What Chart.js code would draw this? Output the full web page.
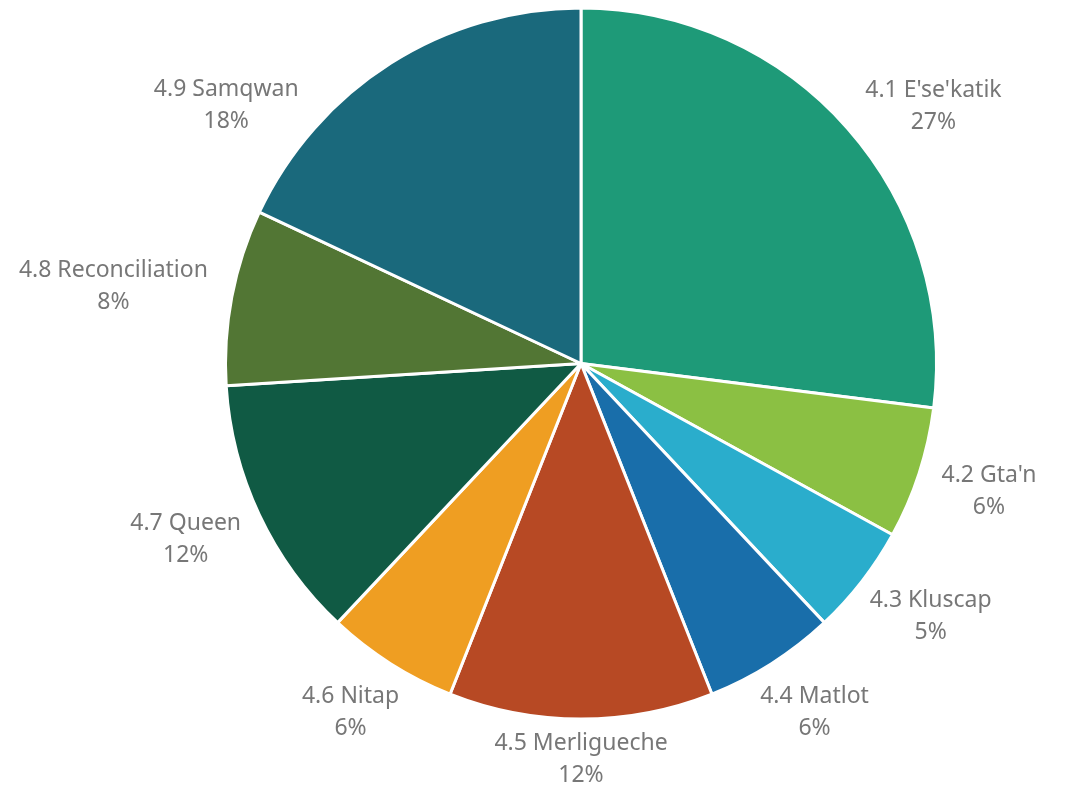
<!DOCTYPE html>
<html>
<head>
<meta charset="utf-8">
<script src="https://cdn.jsdelivr.net/npm/chart.js@4/dist/chart.umd.min.js"></script>
<style>
	html, body { margin: 0; padding: 0; background: #fff; }
	#wrap { width: 1068px; height: 793px; }
</style>
</head>
<body>
<div id="wrap"><canvas id="myChart"></canvas></div>
<script>
const labels = ['4.1 E\'se\'katik', '4.2 Gta\'n', '4.3 Kluscap', '4.4 Matlot', '4.5 Merligueche', '4.6 Nitap', '4.7 Queen', '4.8 Reconciliation', '4.9 Samqwan'];
const shares = [27, 6, 5, 6, 12, 6, 12, 8, 18];
const sliceColors = ['#1e9a78', '#8bc043', '#2aadcc', '#196eaa', '#b74924', '#ef9e22', '#105a44', '#527634', '#1a697c'];

const labelFont = '23px "Noto Sans", "Open Sans", sans-serif';
const labelColor = '#777777';

// outside labels: name + percent, pushed away from the arc and kept inside the canvas
const outsideLabels = {
	id: 'outsideLabels',
	afterDatasetsDraw(chart) {
		const ctx = chart.ctx;
		const meta = chart.getDatasetMeta(0);
		const total = shares.reduce((a, b) => a + b, 0);
		ctx.save();
		ctx.font = labelFont;
		ctx.fillStyle = labelColor;
		ctx.textAlign = 'center';
		ctx.textBaseline = 'middle';
		const lineH = 32;
		const minTop = 72;
		const maxBottom = chart.height - 2;
		meta.data.forEach((arc, i) => {
			const r = arc.outerRadius + 26;
			const pct = Math.round(shares[i] / total * 100) + '%';
			const w = Math.max(ctx.measureText(labels[i]).width, ctx.measureText(pct).width);
			const h = lineH * 2;
			let angle = (arc.startAngle + arc.endAngle) / 2;
			let cx, cy;
			for (let step = 0; step < 90; step++) {
				const dx = Math.cos(angle);
				const dy = Math.sin(angle);
				cx = arc.x + r * dx + dx * w / 2;
				cy = arc.y + r * dy + dy * h / 2;
				if (cy - h / 2 >= minTop) break;
				// slide along the circle, away from the top
				angle += dx < 0 ? -Math.PI / 180 : Math.PI / 180;
			}
			cy = Math.min(cy, maxBottom - h / 2);
			ctx.fillText(labels[i], cx, cy - lineH / 2);
			ctx.fillText(pct, cx, cy + lineH / 2);
		});
		ctx.restore();
	},
};

const chart = new Chart(document.getElementById('myChart'), {
	type: 'pie',
	data: {
		labels: labels,
		datasets: [
			{
				data: shares,
				backgroundColor: sliceColors,
				borderColor: '#ffffff',
				borderWidth: 3,
			},
		],
	},
	options: {
		responsive: true,
		maintainAspectRatio: false,
		animation: false,
		layout: {
			padding: { left: 224, right: 130, top: 6, bottom: 72 },
		},
		plugins: {
			legend: { display: false },
			tooltip: { enabled: false },
		},
	},
	plugins: [outsideLabels],
});
</script>
</body>
</html>
